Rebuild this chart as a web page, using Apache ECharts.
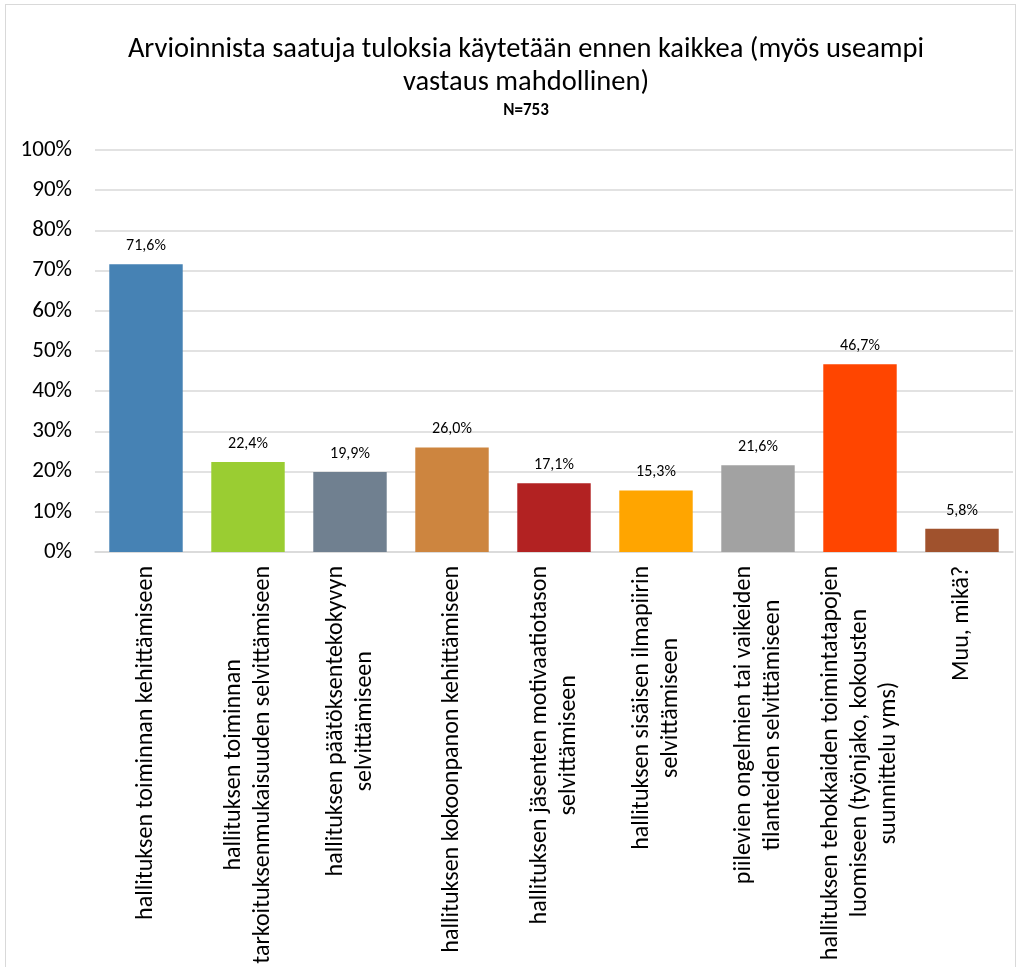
<!DOCTYPE html>
<html>
<head>
<meta charset="utf-8">
<script src="https://cdn.jsdelivr.net/npm/echarts@6/dist/echarts.min.js"></script>
<style>
html,body{margin:0;padding:0;background:#fff;}
#frame{position:absolute;left:5px;top:4px;width:1011px;height:980px;border:1px solid #d9d9d9;box-sizing:border-box;}
#chart{position:absolute;left:0;top:0;width:1022px;height:967px;}
</style>
</head>
<body>
<div id="frame"></div>
<div id="chart"></div>
<script>
const titleText = 'Arvioinnista saatuja tuloksia käytetään ennen kaikkea (myös useampi\nvastaus mahdollinen)';
const subtitleText = 'N=753';
const categories = [
  'hallituksen toiminnan kehittämiseen',
  'hallituksen toiminnan\ntarkoituksenmukaisuuden selvittämiseen',
  'hallituksen päätöksentekokyvyn\nselvittämiseen',
  'hallituksen kokoonpanon kehittämiseen',
  'hallituksen jäsenten motivaatiotason\nselvittämiseen',
  'hallituksen sisäisen ilmapiirin\nselvittämiseen',
  'piilevien ongelmien tai vaikeiden\ntilanteiden selvittämiseen',
  'hallituksen tehokkaiden toimintatapojen\nluomiseen (työnjako, kokousten\nsuunnittelu yms)',
  'Muu, mikä?'
];
const values = [71.6, 22.4, 19.9, 26.0, 17.1, 15.3, 21.6, 46.7, 5.8];
const colors = ['#4682B4', '#9ACD32', '#708090', '#CD853F', '#B22222', '#FFA500', '#A2A2A2', '#FF4500', '#A0522D'];
const yTicks = [0, 10, 20, 30, 40, 50, 60, 70, 80, 90, 100];

const FONT = 'Carlito, Lato, sans-serif';
const chart = echarts.init(document.getElementById('chart'));
chart.setOption({
  animation: false,
  backgroundColor: 'transparent',
  title: {
    text: titleText,
    subtext: subtitleText,
    left: 521,
    top: 28,
    textAlign: 'center',
    itemGap: 3,
    textStyle: { fontFamily: FONT, fontSize: 28.5, fontWeight: 'normal', color: '#000', lineHeight: 33 },
    subtextStyle: { fontFamily: FONT, fontSize: 17, fontWeight: 'bold', color: '#000' }
  },
  grid: { left: 95, right: 9, top: 150, bottom: 415, containLabel: false },
  xAxis: {
    type: 'category',
    data: categories,
    axisLine: { lineStyle: { color: '#d9d9d9', width: 1.5 } },
    axisTick: { show: false },
    axisLabel: {
      interval: 0,
      rotate: 90,
      margin: 14,
      color: '#000',
      fontFamily: FONT,
      fontSize: 24,
      formatter: v => v.split('\n').map(l => '{c|' + l + '}').join('\n'),
      rich: { c: { align: 'center', fontFamily: FONT, fontSize: 24, lineHeight: 29, color: '#000' } }
    }
  },
  yAxis: {
    type: 'value',
    min: yTicks[0],
    max: yTicks[yTicks.length - 1],
    interval: 10,
    axisLine: { show: false },
    axisTick: { show: false },
    axisLabel: { formatter: v => v + '%', color: '#000', fontFamily: FONT, fontSize: 23, margin: 23 },
    splitLine: { lineStyle: { color: '#d9d9d9', width: 1.5 } }
  },
  series: [{
    type: 'bar',
    barWidth: '72%',
    data: values.map((v, i) => ({ value: v, itemStyle: { color: colors[i] } })),
    label: {
      show: true,
      position: 'top',
      distance: 10,
      color: '#000',
      fontFamily: FONT,
      fontSize: 16,
      formatter: p => p.value.toFixed(1).replace('.', ',') + '%'
    }
  }]
});
</script>
</body>
</html>
